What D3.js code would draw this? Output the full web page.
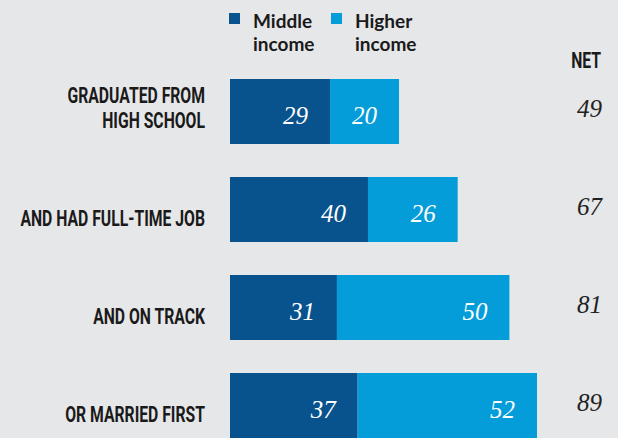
<!DOCTYPE html>
<html>
<head>
<meta charset="utf-8">
<script src="https://cdn.jsdelivr.net/npm/d3@7"></script>
<style>
  html, body { margin: 0; padding: 0; background: #e6e7e9; }
  svg { display: block; }
</style>
</head>
<body>
<svg id="chart" width="618" height="438"></svg>
<script>
// ---- data ----
const categories = [
  ["GRADUATED FROM", "HIGH SCHOOL"],
  ["AND HAD FULL-TIME JOB"],
  ["AND ON TRACK"],
  ["OR MARRIED FIRST"]
];
const middleIncome = [29, 40, 31, 37];
const higherIncome = [20, 26, 50, 52];
const netValues = [49, 67, 81, 89];
const seriesNames = [["Middle", "income"], ["Higher", "income"]];
const netHeader = "NET";

// ---- style ----
const colors = ["#08528e", "#049dd9"];
const labelFont = "Roboto, 'Liberation Sans', sans-serif";
const numFont = "'Liberation Serif', 'DejaVu Serif', serif";
const condense = 0.7;
const labelSize = 22.5;

const svg = d3.select("#chart");
const W = 618, H = 438;

svg.append("rect").attr("width", W).attr("height", H).attr("fill", "#e6e7e9");

const idx = d3.range(categories.length);
const x = d3.scaleLinear().domain([0, 89]).range([230, 537]);
const y = d3.scaleBand().domain(idx).range([79, 438]).paddingInner(33 / 98).paddingOuter(0);
const bw = y.bandwidth();

// bars
const rows = svg.append("g").selectAll("g").data(idx).join("g");
rows.append("rect")
  .attr("x", x(0))
  .attr("y", i => y(i))
  .attr("width", i => x(middleIncome[i]) - x(0))
  .attr("height", bw)
  .attr("fill", colors[0]);
rows.append("rect")
  .attr("x", i => x(middleIncome[i]))
  .attr("y", i => y(i))
  .attr("width", i => x(middleIncome[i] + higherIncome[i]) - x(middleIncome[i]))
  .attr("height", bw)
  .attr("fill", colors[1]);

// values inside bars
rows.append("text")
  .attr("x", i => x(middleIncome[i]) - 22)
  .attr("y", i => y(i) + bw / 2 + 12)
  .attr("text-anchor", "end")
  .attr("font-family", numFont).attr("font-style", "italic").attr("font-size", 25)
  .attr("fill", "#fff")
  .text(i => middleIncome[i]);
rows.append("text")
  .attr("x", i => x(middleIncome[i] + higherIncome[i]) - 22)
  .attr("y", i => y(i) + bw / 2 + 12)
  .attr("text-anchor", "end")
  .attr("font-family", numFont).attr("font-style", "italic").attr("font-size", 25)
  .attr("fill", "#fff")
  .text(i => higherIncome[i]);

// net values
rows.append("text")
  .attr("x", 602)
  .attr("y", i => y(i) + bw / 2 + 5)
  .attr("text-anchor", "end")
  .attr("font-family", numFont).attr("font-style", "italic").attr("font-size", 25)
  .attr("fill", "#222")
  .text(i => netValues[i]);

// category labels (condensed)
const labelX = 205;
rows.each(function (i) {
  const lines = categories[i];
  const n = lines.length;
  const lastBase = y(i) + bw / 2 + 17;
  const g = d3.select(this).append("g")
    .attr("transform", `translate(${labelX},0) scale(${condense},1)`);
  lines.forEach((ln, k) => {
    g.append("text")
      .attr("x", 0)
      .attr("y", lastBase - (n - 1 - k) * 25)
      .attr("text-anchor", "end")
      .attr("font-family", labelFont).attr("font-weight", 700).attr("font-size", labelSize)
      .attr("fill", "#1a1a1a")
      .text(ln);
  });
});

// NET header
svg.append("g").attr("transform", `translate(601,0) scale(${condense},1)`)
  .append("text")
  .attr("x", 0).attr("y", 68)
  .attr("text-anchor", "end")
  .attr("font-family", labelFont).attr("font-weight", 700).attr("font-size", labelSize)
  .attr("fill", "#1a1a1a")
  .text(netHeader);

// legend
const legendX = [229, 331];
seriesNames.forEach((nm, s) => {
  const g = svg.append("g").attr("transform", `translate(${legendX[s]},0)`);
  g.append("rect").attr("x", 0).attr("y", 13).attr("width", 11).attr("height", 11).attr("fill", colors[s]);
  nm.forEach((ln, k) => {
    g.append("text")
      .attr("x", 24).attr("y", 28 + k * 23)
      .attr("font-family", "Lato, 'Open Sans', sans-serif").attr("font-weight", 700).attr("font-size", 19)
      .attr("fill", "#1a1a1a")
      .text(ln);
  });
});
</script>
</body>
</html>
